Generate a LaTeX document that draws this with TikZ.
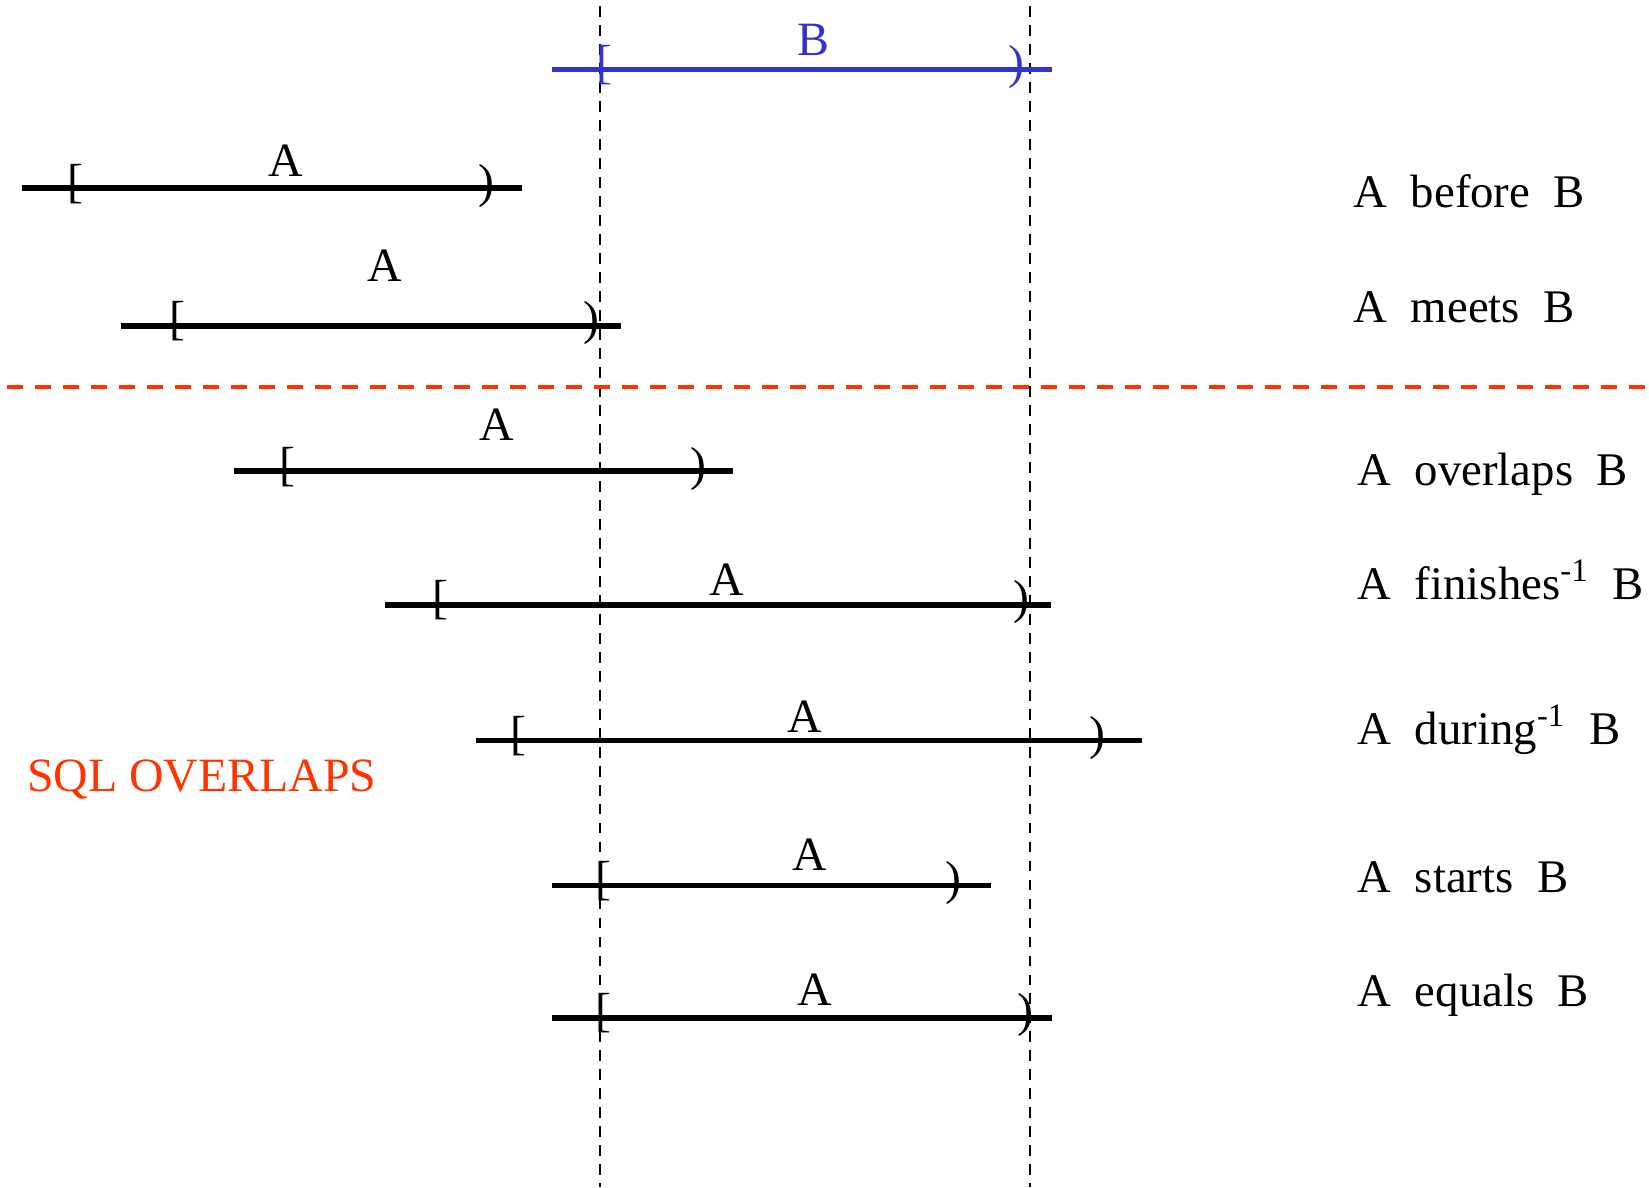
\documentclass[tikz,border=0pt]{standalone}
\usepackage{fontspec}
\setmainfont{Liberation Serif}
\definecolor{bblue}{HTML}{3333CC}
\definecolor{sqlred}{HTML}{FF3300}
\begin{document}
\begin{tikzpicture}[x=0.01cm,y=-0.01cm,
  txt/.style={inner sep=0pt,font=\fontsize{13.6}{16}\selectfont},
  brk/.style={txt,text height=0.68em,text depth=0.18em,anchor=center},
  lab/.style={txt,anchor=base},
  rlab/.style={txt,anchor=base west,font=\fontsize{13.3}{16}\selectfont},
  ivline/.style={line width=1.6pt},
  guide/.style={line width=0.7pt,dash pattern=on 3.1pt off 2.3pt},
  divider/.style={sqlred,line width=1.15pt,dash pattern=on 4.55pt off 3.4pt}]
\useasboundingbox (0,0) rectangle (1649,1187);
% guide lines
\coordinate (g1t) at (600,6);
\coordinate (g1b) at (600,1187);
\coordinate (g2t) at (1030,6);
\coordinate (g2b) at (1030,1187);
\draw[guide] (g1t) -- (g1b);
\draw[guide] (g2t) -- (g2b);
% divider
\coordinate (dl) at (7,387);
\coordinate (dr) at (1649,387);
\draw[divider] (dl) -- (dr);
% interval B
\coordinate (Bs) at (552,69.4);
\coordinate (Be) at (1052,69.4);
\draw[ivline,bblue,line width=1.45pt] (Bs) -- (Be);
\node[brk,text=bblue] (Blb) at (604,69.4) {[};
\node[brk,text=bblue] (Brb) at (1016,69.4) {)};
\node[lab,text=bblue] (BB) at (813,55.7) {B};
% intervals A
\foreach \n/\y/\a/\b/\l/\r/\lx/\ly in {
  bef/188.3/22/521.6/75.7/486/286/176.7,
  mee/326/121/620.5/177.7/591/385/281.9,
  ove/471.2/233.5/733/287/698/497/440.7,
  fin/604.7/385/1050.7/440.7/1021/727/595.3,
  dur/740.4/476.4/1142/518.5/1097/805/732,
  sta/885.5/552/990.7/603/953/810/870.8,
  equ/1018/552/1051.7/603/1025/815/1005.4}{
  \coordinate (\n s) at (\a,\y);
  \coordinate (\n e) at (\b,\y);
  \draw[ivline] (\n s) -- (\n e);
  \node[brk] (\n lb) at (\l,\y) {[};
  \node[brk] (\n rb) at (\r,\y) {)};
  \node[lab] (\n A) at (\lx,\ly) {A};
}
% relation labels
\node[rlab] (tbef) at (1353,207) {A\ \ before\ \ B};
\node[rlab] (tmee) at (1353,322) {A\ \ meets\ \ B};
\node[rlab] (tove) at (1357,485) {A\ \ overlaps\ \ B};
\node[rlab] (tfin) at (1357,599.5) {A\ \ finishes\textsuperscript{-1}\ \ B};
\node[rlab] (tdur) at (1357,744.6) {A\ \ during\textsuperscript{-1}\ \ B};
\node[rlab] (tsta) at (1357,892) {A\ \ starts\ \ B};
\node[rlab] (tequ) at (1357,1006.5) {A\ \ equals\ \ B};
\node[txt,anchor=base west,text=sqlred] (sql) at (26.3,791) {SQL OVERLAPS};
\end{tikzpicture}
\end{document}
